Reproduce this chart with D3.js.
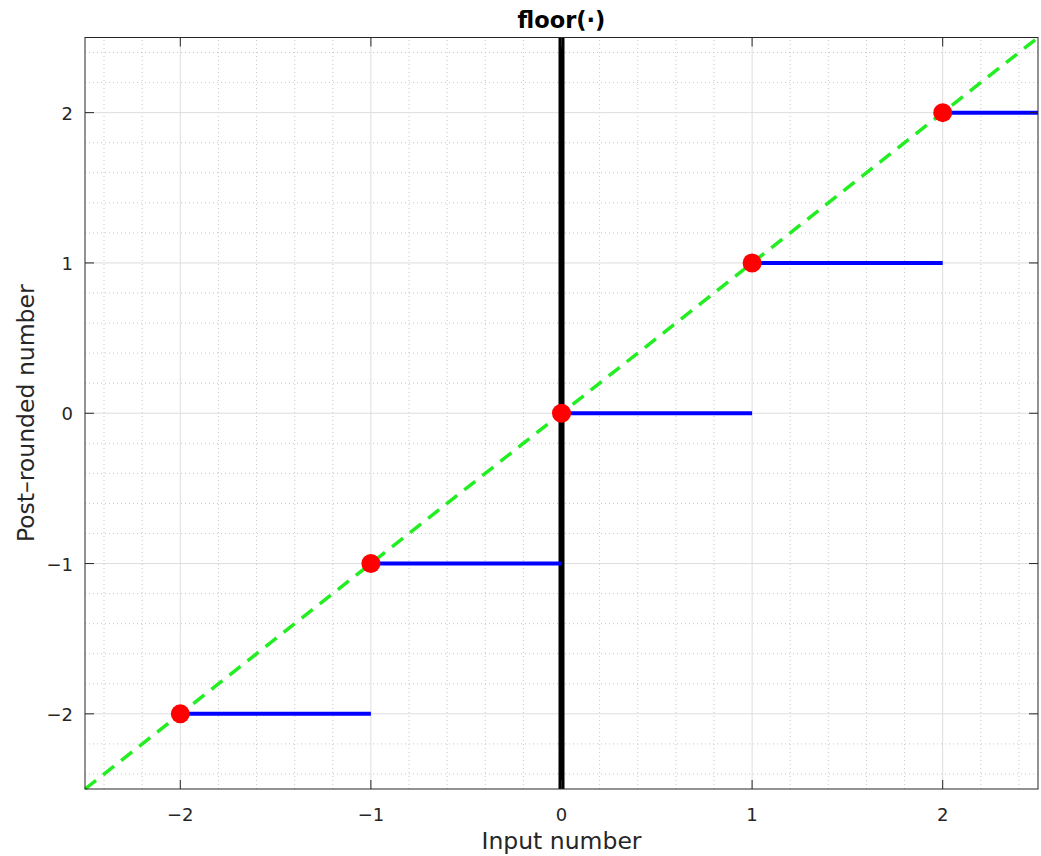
<!DOCTYPE html>
<html>
<head>
<meta charset="utf-8">
<script src="https://cdn.jsdelivr.net/npm/d3@7"></script>
<style>
  body { margin: 0; background: #fff; }
  svg text { font-family: "DejaVu Sans", "Open Sans", sans-serif; fill: #262626; }
</style>
</head>
<body>
<div id="chart"></div>
<script>
// data
var stepStart = [-2, -1, 0, 1, 2];
var stepEnd = [-1, 0, 1, 2, 2.5];
var stepValue = [-2, -1, 0, 1, 2];
var majorTicks = [-2, -1, 0, 1, 2];
var domainX = [-2.5, 2.5], domainY = [-2.5, 2.5];

var width = 1041, height = 856;
var margin = {left: 85, right: 3, top: 37.5, bottom: 67};

var svg = d3.select('#chart').append('svg')
    .attr('width', width)
    .attr('height', height);

var x = d3.scaleLinear().domain(domainX).range([margin.left, width - margin.right]);
var y = d3.scaleLinear().domain(domainY).range([height - margin.bottom, margin.top]);

var minor = d3.range(-24, 25, 2).map(function(d) { return d / 10; })
    .filter(function(d) { return Math.abs(d * 10) % 10 !== 0; });

var plot = svg.append('g');

// minor grid (dotted)
plot.selectAll('line.mx').data(minor).enter().append('line')
    .attr('x1', x).attr('x2', x)
    .attr('y1', y(domainY[0])).attr('y2', y(domainY[1]))
    .attr('stroke', '#c8c8c8').attr('stroke-width', 1).attr('stroke-dasharray', '1,3');
plot.selectAll('line.my').data(minor).enter().append('line')
    .attr('y1', y).attr('y2', y)
    .attr('x1', x(domainX[0])).attr('x2', x(domainX[1]))
    .attr('stroke', '#c8c8c8').attr('stroke-width', 1).attr('stroke-dasharray', '1,3');

// major grid
plot.selectAll('line.gx').data(majorTicks).enter().append('line')
    .attr('x1', x).attr('x2', x)
    .attr('y1', y(domainY[0])).attr('y2', y(domainY[1]))
    .attr('stroke', '#dedede').attr('stroke-width', 1);
plot.selectAll('line.gy').data(majorTicks).enter().append('line')
    .attr('y1', y).attr('y2', y)
    .attr('x1', x(domainX[0])).attr('x2', x(domainX[1]))
    .attr('stroke', '#dedede').attr('stroke-width', 1);

// black vertical line at x = 0
plot.append('line')
    .attr('x1', x(0)).attr('x2', x(0))
    .attr('y1', y(domainY[0])).attr('y2', y(domainY[1]))
    .attr('stroke', '#000').attr('stroke-width', 6);

// green dashed identity line
plot.append('line')
    .attr('x1', x(domainX[0])).attr('y1', y(domainX[0]))
    .attr('x2', x(domainX[1])).attr('y2', y(domainX[1]))
    .attr('stroke', '#22ee22').attr('stroke-width', 3.5).attr('stroke-dasharray', '14,9');

// blue steps
plot.selectAll('line.step').data(stepStart).enter().append('line')
    .attr('x1', function(d) { return x(d); })
    .attr('x2', function(d, i) { return x(stepEnd[i]); })
    .attr('y1', function(d, i) { return y(stepValue[i]); })
    .attr('y2', function(d, i) { return y(stepValue[i]); })
    .attr('stroke', '#0000ff').attr('stroke-width', 4);

// red dots
plot.selectAll('circle').data(stepStart).enter().append('circle')
    .attr('cx', function(d) { return x(d); })
    .attr('cy', function(d, i) { return y(stepValue[i]); })
    .attr('r', 9.5)
    .attr('fill', '#ff0000');

// box
svg.append('rect')
    .attr('x', x(domainX[0])).attr('y', y(domainY[1]))
    .attr('width', x(domainX[1]) - x(domainX[0]))
    .attr('height', y(domainY[0]) - y(domainY[1]))
    .attr('fill', 'none').attr('stroke', '#262626').attr('stroke-width', 1);

// inward ticks on all sides
var tl = 9;
var tickG = svg.append('g').attr('stroke', '#262626').attr('stroke-width', 1);
majorTicks.forEach(function(t) {
  tickG.append('line').attr('x1', x(t)).attr('x2', x(t)).attr('y1', y(domainY[0])).attr('y2', y(domainY[0]) - tl);
  tickG.append('line').attr('x1', x(t)).attr('x2', x(t)).attr('y1', y(domainY[1])).attr('y2', y(domainY[1]) + tl);
  tickG.append('line').attr('y1', y(t)).attr('y2', y(t)).attr('x1', x(domainX[0])).attr('x2', x(domainX[0]) + tl);
  tickG.append('line').attr('y1', y(t)).attr('y2', y(t)).attr('x1', x(domainX[1])).attr('x2', x(domainX[1]) - tl);
});

function fmt(d) { return d < 0 ? '\u2212' + Math.abs(d) : String(d); }

svg.selectAll('text.xt').data(majorTicks).enter().append('text')
    .attr('x', x).attr('y', y(domainY[0]) + 32)
    .attr('text-anchor', 'middle').attr('font-size', 18)
    .text(fmt);
svg.selectAll('text.yt').data(majorTicks).enter().append('text')
    .attr('x', x(domainX[0]) - 12).attr('y', function(d) { return y(d) + 7; })
    .attr('text-anchor', 'end').attr('font-size', 18)
    .text(fmt);

svg.append('text')
    .attr('x', x(0)).attr('y', 849)
    .attr('text-anchor', 'middle').attr('font-size', 23.5)
    .text('Input number');

svg.append('text')
    .attr('transform', 'translate(34,' + y(0) + ') rotate(-90)')
    .attr('text-anchor', 'middle').attr('font-size', 23.5)
    .text('Post\u2013rounded number');

svg.append('text')
    .attr('x', x(0)).attr('y', 28)
    .attr('text-anchor', 'middle').attr('font-size', 22.5).attr('font-weight', 'bold')
    .style('fill', '#000')
    .text('floor(\u00b7)');
</script>
</body>
</html>
